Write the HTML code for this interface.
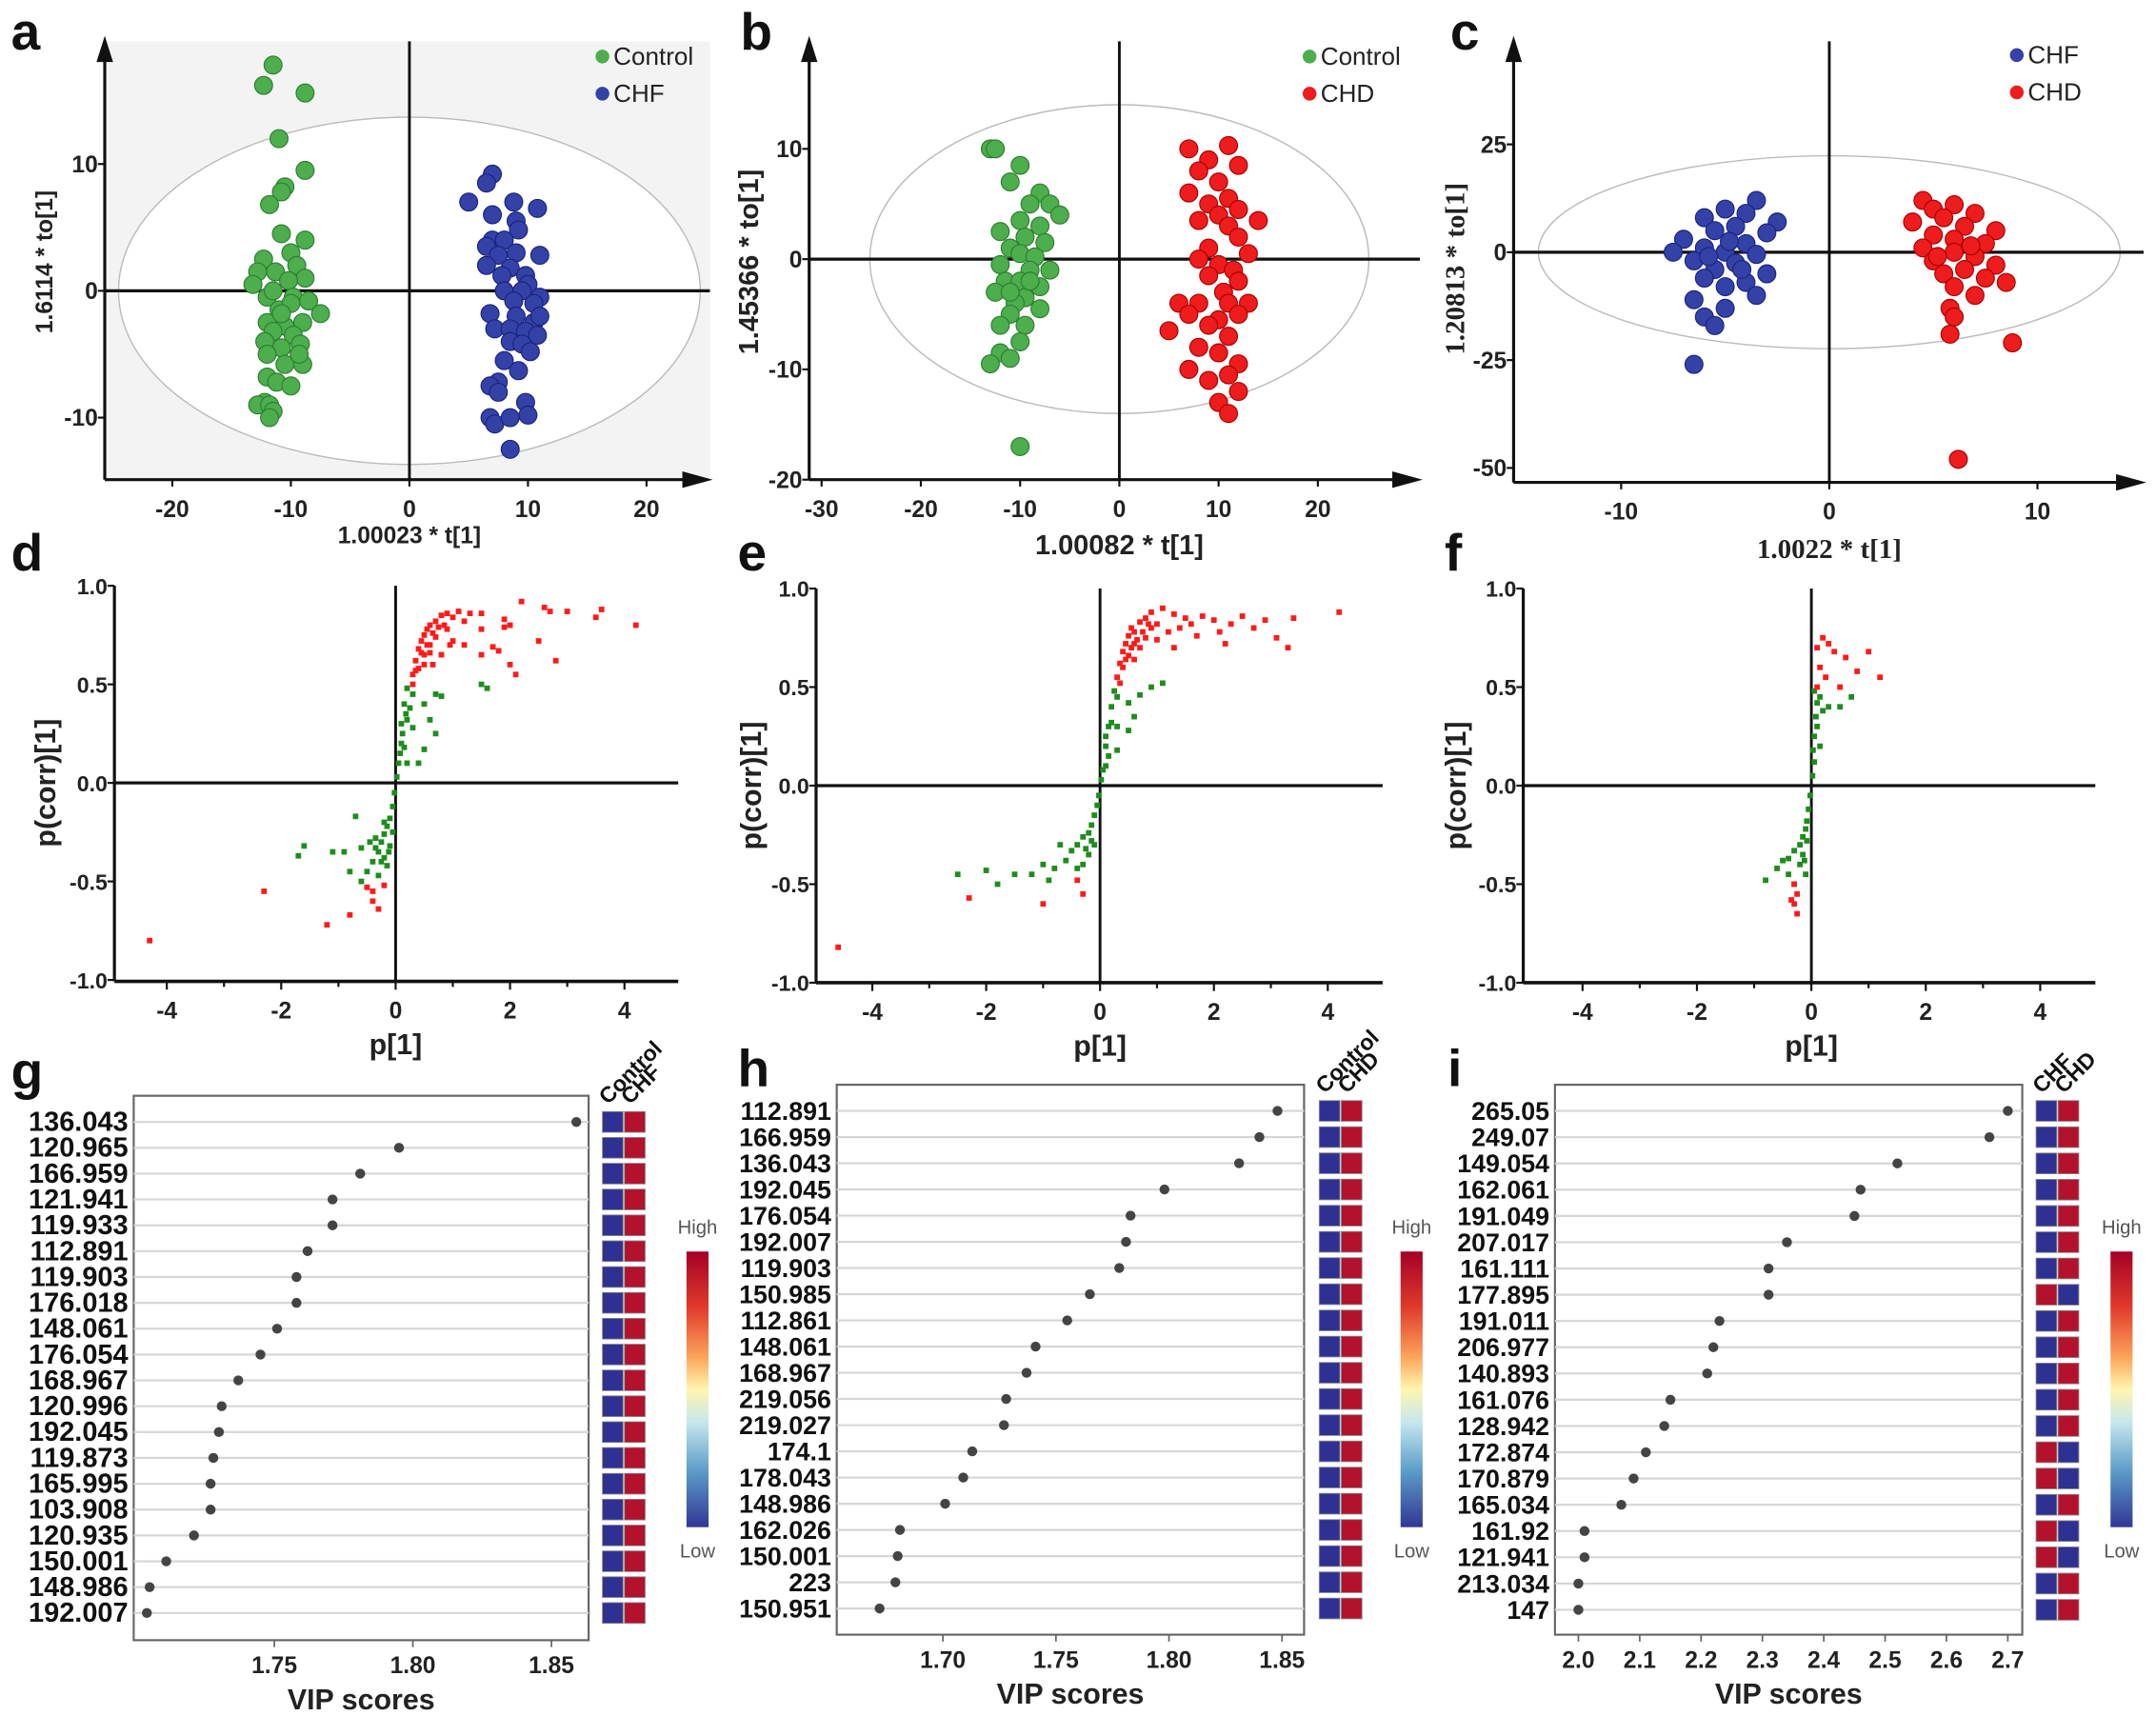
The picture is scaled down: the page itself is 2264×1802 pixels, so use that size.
<!DOCTYPE html>
<html><head><meta charset="utf-8"><style>
html,body{margin:0;padding:0;background:#fff;}
svg{display:block;font-family:"Liberation Sans",sans-serif;}
</style></head><body>
<svg id="fig" width="2264" height="1802" viewBox="0 0 1564 1245" preserveAspectRatio="none" xmlns="http://www.w3.org/2000/svg"></svg>
<script>
// ---------- Score plot data (a,b,c) ----------
const aControl=[[-11.5,17.8],[-12.3,16.2],[-8.8,15.6],[-11,12],[-8.8,9.5],[-10.5,8.2],[-10.8,7.8],[-11.8,6.8],[-10.8,4.5],[-8.8,4],[-10,3],[-12.3,2.5],[-9.5,2],[-12.8,1.5],[-11.3,1.5],[-8.8,1],[-13.2,0.5],[-10.2,0.8],[-12,-0.5],[-9.8,-0.5],[-8.5,-0.8],[-11,-1.5],[-10,-1],[-7.5,-1.8],[-12,-2.5],[-10.5,-2.8],[-9,-2.5],[-11.5,-3.2],[-9.8,-3.5],[-12.2,-4],[-10.8,-4.5],[-9.2,-4.2],[-12,-5],[-10.5,-5.8],[-9,-5.8],[-12,-6.8],[-11.2,-7.2],[-10,-7.5],[-12.2,-8.8],[-12.8,-9],[-11.8,-9],[-11.5,-9.5],[-11.8,-10],[-9.3,-5],[-10.8,-1.8],[-11.5,0]];
const aCHF=[[7,9.2],[6.5,8.5],[5,7],[8.8,7],[10.8,6.5],[7,6],[9,5.5],[9.2,4.8],[7,4],[8,4],[6.5,3.5],[9,3],[7.5,2.8],[11,2.8],[6.5,2],[8.5,1.8],[7.8,1.2],[9.8,1.2],[10,0.5],[8,0],[9.5,0],[11,-0.5],[8.8,-0.8],[10.5,-1],[6.8,-1.8],[9,-2],[10.5,-2.5],[11,-2],[7.2,-3],[8.5,-3],[9.8,-3.2],[10.8,-3.5],[8.5,-4],[9.5,-4.2],[10.2,-4.8],[8,-5.5],[9.2,-6.3],[7.5,-7.2],[6.8,-7.5],[7.5,-8],[9.8,-8.8],[6.8,-10],[7.2,-10.5],[8.5,-10],[10,-9.8],[8.5,-12.5]];
const bControl=[[-13,10],[-12.5,10],[-10,8.5],[-11,7],[-8,6],[-9,5],[-7,5],[-6,4],[-10,3.5],[-8,3],[-12,2.5],[-9.5,2],[-7.5,1.5],[-11,1],[-10,0.5],[-8.5,0.2],[-12,-0.5],[-9,-1],[-7,-1],[-11.5,-2],[-10,-2],[-8,-2.5],[-12.5,-3],[-9.5,-3.5],[-10.5,-4],[-8,-4.5],[-11,-5],[-12,-6],[-9.5,-6],[-10,-7.5],[-12,-8.5],[-13,-9.5],[-11,-9],[-10,-17],[-9,-2],[-11,-3]];
const bCHD=[[7,10],[11,10.3],[9,9],[12,8.5],[8,8],[10,7],[7,6],[11,5.5],[9,5],[12,4.5],[10,4],[8,3.5],[14,3.5],[11,3],[12,2],[9,1],[13,0.5],[8,0],[10,-0.5],[11.5,-1],[9,-1.5],[12,-2],[10.5,-3],[6,-4],[8,-4],[11,-4],[13,-4],[7,-5],[10,-5.5],[12,-5],[9,-6],[5,-6.5],[11,-7],[8,-8],[10,-8.5],[12,-9.5],[7,-10],[11,-10.5],[9,-11],[12,-12],[10,-13],[11,-14]];
const cCHF=[[-3.5,12],[-5,10],[-4,9],[-6,8],[-2.5,7],[-4.5,6],[-5.5,5],[-3,4.5],[-7,3],[-4,2],[-6,1],[-5,0],[-7.5,0],[-3.5,-0.5],[-6.5,-2],[-4.5,-2.5],[-5.5,-4],[-3,-5],[-6,-6],[-4,-7],[-5,-8],[-3.5,-10],[-6.5,-11],[-5,-13],[-6,-15],[-5.5,-17],[-6.5,-26],[-4.8,2.5],[-5.8,-1],[-4.2,-4]];
const cCHD=[[4.5,12],[6,11],[5,10],[7,9],[5.5,8],[4,7],[6.5,6],[8,5],[5,4],[6,3],[7.5,2],[4.5,1],[6,0],[7,-1],[5,-2],[8,-3],[6.5,-4],[5.5,-5],[7.5,-6],[8.5,-7],[6,-8],[7,-10],[5.8,-13],[6,-15],[5.8,-19],[8.8,-21],[6.2,-48],[5.2,-1],[6.8,1.5]];
const aXTicks=[-20,-10,0,10,20], aYTicks=[10,0,-10];
const bXTicks=[-30,-20,-10,0,10,20], bYTicks=[10,0,-10,-20];
const cXTicks=[-10,0,10], cYTicks=[25,0,-25,-50];
// ---------- S-plot data (d,e,f) ----------
const dRed=[[0.3,0.55],[0.35,0.62],[0.4,0.68],[0.45,0.72],[0.5,0.75],[0.55,0.78],[0.6,0.8],[0.7,0.82],[0.8,0.85],[0.9,0.86],[1.1,0.87],[1.3,0.86],[1.5,0.86],[0.4,0.58],[0.5,0.65],[0.6,0.7],[0.7,0.74],[0.8,0.65],[0.9,0.78],[1.0,0.72],[1.2,0.7],[1.5,0.78],[1.5,0.65],[1.7,0.69],[1.8,0.67],[1.9,0.79],[2.0,0.8],[2.0,0.6],[2.1,0.55],[2.2,0.92],[2.5,0.72],[2.6,0.89],[2.7,0.87],[2.8,0.62],[3.0,0.87],[3.5,0.84],[3.6,0.88],[4.2,0.8],[1.9,0.83],[0.65,0.6],[0.3,0.5],[0.45,0.66],[0.55,0.7],[0.65,0.76],[0.75,0.79],[0.5,0.6],[0.6,0.66],[0.85,0.8],[1.0,0.84],[1.2,0.82],[0.35,0.57],[0.95,0.7],[-0.2,-0.52],[-0.4,-0.55],[-0.5,-0.53],[-0.4,-0.6],[-0.3,-0.64],[-0.8,-0.67],[-1.2,-0.72],[-2.3,-0.55],[-4.3,-0.8]];
const dGreen=[[0.2,0.48],[0.3,0.45],[0.15,0.4],[0.25,0.38],[0.5,0.4],[0.7,0.45],[0.8,0.44],[1.5,0.5],[1.6,0.48],[0.1,0.3],[0.2,0.32],[0.3,0.28],[0.6,0.32],[0.7,0.25],[0.1,0.2],[0.15,0.18],[0.5,0.17],[0.05,0.1],[0.2,0.1],[0.4,0.1],[0.02,0.03],[-0.02,-0.05],[-0.05,-0.12],[-0.1,-0.18],[-0.15,-0.22],[-0.2,-0.26],[-0.25,-0.3],[-0.35,-0.28],[-0.45,-0.3],[-0.6,-0.33],[-0.3,-0.35],[-0.2,-0.38],[-0.4,-0.4],[-0.15,-0.42],[-0.5,-0.45],[-0.8,-0.45],[-0.9,-0.35],[-1.1,-0.35],[-1.6,-0.32],[-1.7,-0.37],[-0.7,-0.17],[-0.6,-0.5],[-0.3,-0.47],[-0.1,-0.32],[-0.05,-0.25],[0.12,0.25],[0.18,0.35],[0.08,0.15],[-0.12,-0.35],[-0.25,-0.4],[-0.35,-0.33],[-0.2,-0.2]];
const eRed=[[0.3,0.55],[0.35,0.62],[0.4,0.68],[0.45,0.72],[0.5,0.76],[0.55,0.8],[0.6,0.78],[0.7,0.83],[0.8,0.85],[0.9,0.88],[1.1,0.9],[1.3,0.87],[1.5,0.85],[0.4,0.6],[0.5,0.66],[0.6,0.72],[0.7,0.7],[0.8,0.75],[0.9,0.8],[1.0,0.74],[1.2,0.78],[1.4,0.8],[1.6,0.82],[1.7,0.76],[1.8,0.86],[2.0,0.84],[2.1,0.78],[2.3,0.82],[2.5,0.86],[2.7,0.8],[2.9,0.84],[3.1,0.75],[3.3,0.7],[3.4,0.85],[4.2,0.88],[1.3,0.7],[2.2,0.72],[0.35,0.52],[0.45,0.64],[0.55,0.7],[0.65,0.74],[0.75,0.78],[0.85,0.82],[1.0,0.82],[0.6,0.64],[-0.3,-0.55],[-0.4,-0.48],[-1,-0.6],[-2.3,-0.57],[-4.6,-0.82]];
const eGreen=[[0.25,0.48],[0.3,0.45],[0.2,0.4],[0.5,0.42],[0.7,0.46],[0.9,0.5],[1.1,0.52],[0.3,0.3],[0.2,0.32],[0.5,0.28],[0.6,0.35],[0.1,0.2],[0.15,0.15],[0.3,0.18],[0.05,0.08],[0.1,0.1],[0.02,0.03],[-0.02,-0.05],[-0.05,-0.1],[-0.1,-0.15],[-0.15,-0.2],[-0.2,-0.24],[-0.3,-0.26],[-0.4,-0.3],[-0.5,-0.33],[-0.6,-0.38],[-0.8,-0.42],[-1.0,-0.4],[-1.2,-0.45],[-1.5,-0.45],[-2.0,-0.43],[-2.5,-0.45],[-1.8,-0.5],[-0.3,-0.4],[-0.2,-0.35],[-0.1,-0.3],[-0.7,-0.3],[-0.9,-0.48],[-0.4,-0.42],[0.15,0.3],[0.1,0.25],[-0.15,-0.28],[-0.25,-0.32]];
const fRed=[[0.1,0.7],[0.2,0.75],[0.3,0.72],[0.4,0.68],[0.6,0.65],[0.8,0.58],[1.0,0.68],[1.2,0.55],[0.15,0.6],[0.25,0.55],[0.5,0.5],[0.1,0.5],[-0.3,-0.5],[-0.25,-0.55],[-0.3,-0.6],[-0.25,-0.65],[-0.35,-0.58]];
const fGreen=[[0.05,0.48],[0.1,0.42],[0.15,0.45],[0.2,0.38],[0.3,0.4],[0.5,0.4],[0.7,0.45],[0.1,0.3],[0.05,0.25],[0.15,0.2],[0.05,0.12],[0.02,0.05],[-0.02,-0.05],[-0.05,-0.12],[-0.08,-0.18],[-0.1,-0.22],[-0.15,-0.26],[-0.2,-0.3],[-0.3,-0.33],[-0.4,-0.37],[-0.5,-0.38],[-0.6,-0.42],[-0.2,-0.4],[-0.1,-0.45],[-0.4,-0.45],[-0.8,-0.48],[-0.3,-0.5],[-0.15,-0.35],[0.08,0.35],[0.03,0.18],[-0.08,-0.28],[-0.12,-0.38]];
const sXTicks=[-4,-2,0,2,4], sYTicks=[1.0,0.5,0.0,-0.5,-1.0];
// ---------- VIP data (g,h,i) ----------
const gLabels=["136.043","120.965","166.959","121.941","119.933","112.891","119.903","176.018","148.061","176.054","168.967","120.996","192.045","119.873","165.995","103.908","120.935","150.001","148.986","192.007"];
const gVIP=[1.859,1.795,1.781,1.771,1.771,1.762,1.758,1.758,1.751,1.745,1.737,1.731,1.730,1.728,1.727,1.727,1.721,1.711,1.705,1.704];
const gHigh=[1,1,1,1,1,1,1,1,1,1,1,1,1,1,1,1,1,1,1,1];
const gTicks=[1.75,1.80,1.85];
const hLabels=["112.891","166.959","136.043","192.045","176.054","192.007","119.903","150.985","112.861","148.061","168.967","219.056","219.027","174.1","178.043","148.986","162.026","150.001","223","150.951"];
const hVIP=[1.848,1.840,1.831,1.798,1.783,1.781,1.778,1.765,1.755,1.741,1.737,1.728,1.727,1.713,1.709,1.701,1.681,1.680,1.679,1.672];
const hHigh=[1,1,1,1,1,1,1,1,1,1,1,1,1,1,1,1,1,1,1,1];
const hTicks=[1.70,1.75,1.80,1.85];
const iLabels=["265.05","249.07","149.054","162.061","191.049","207.017","161.111","177.895","191.011","206.977","140.893","161.076","128.942","172.874","170.879","165.034","161.92","121.941","213.034","147"];
const iVIP=[2.70,2.67,2.52,2.46,2.45,2.34,2.31,2.31,2.23,2.22,2.21,2.15,2.14,2.11,2.09,2.07,2.01,2.01,2.00,2.00];
const iHigh=[1,1,1,1,1,1,1,0,1,1,1,1,1,0,0,1,0,0,1,1];
const iTicks=[2.0,2.1,2.2,2.3,2.4,2.5,2.6,2.7];

const NS="http://www.w3.org/2000/svg";
const svg=document.getElementById('fig');
function el(tag,attrs,parent,txt){const e=document.createElementNS(NS,tag);for(const k in attrs)e.setAttribute(k,attrs[k]);if(txt!==undefined)e.textContent=txt;(parent||svg).appendChild(e);return e;}
function grp(name){const g=el('g',{});return g;}
function line(g,x1,y1,x2,y2,c,w){return el('line',{x1,y1,x2,y2,stroke:c||'#000','stroke-width':w||2},g);}
function txt(g,x,y,s,o){const t=el('text',Object.assign({x,y,'font-size':15,'font-weight':'bold',fill:'#222'},o||{}),g,s);return t;}

const letters=[['a',8,36],['b',537,36],['c',1052,36],['d',8,414],['e',535,414],['f',1048,414],['g',8,790],['h',535,788],['i',1050,788]];
letters.forEach(l=>{const t=txt(svg,l[1],l[2],l[0],{'font-size':38,fill:'#111'});});

function scorePlot(cfg){
  const g=grp('score-plot-'+cfg.id);
  const X=v=>cfg.x0+v*cfg.sx, Y=v=>cfg.y0+v*cfg.sy;
  if(cfg.bg) el('rect',{x:cfg.L,y:cfg.T,width:cfg.R-cfg.L,height:cfg.B-cfg.T,fill:cfg.bg},g);
  el('ellipse',{cx:cfg.x0,cy:cfg.y0,rx:cfg.erx,ry:cfg.ery,fill:'#fff',stroke:'#bbb','stroke-width':1},g);
  line(g,cfg.x0,cfg.T,cfg.x0,cfg.B,'#111',2);
  line(g,cfg.L,cfg.y0,cfg.R,cfg.y0,'#111',2.2);
  line(g,cfg.L,cfg.T,cfg.L,cfg.B,'#111',2.2);
  line(g,cfg.L,cfg.B,cfg.R-10,cfg.B,'#111',2.2);
  el('polygon',{points:`${cfg.L-6},${cfg.T+15} ${cfg.L},${cfg.T-4} ${cfg.L+6},${cfg.T+15}`,fill:'#111'},g);
  el('polygon',{points:`${cfg.R-20},${cfg.B-6} ${cfg.R+2},${cfg.B} ${cfg.R-20},${cfg.B+6}`,fill:'#111'},g);
  cfg.xt.forEach(v=>{line(g,X(v),cfg.B,X(v),cfg.B+5,'#111',1.5);const t=txt(g,X(v),cfg.B+27,String(v),{'text-anchor':'middle','font-size':17});});
  cfg.yt.forEach(v=>{line(g,cfg.L-5,Y(v),cfg.L,Y(v),'#111',1.5);const t=txt(g,cfg.L-5,Y(v)+6,String(v),{'text-anchor':'end','font-size':17});});
  cfg.series.forEach(s=>{
    const sg=el('g',{},g);
    
    
    s.data.forEach(p=>{const c=el('circle',{cx:X(p[0]),cy:Y(p[1]),r:6.5,fill:s.color,stroke:s.stroke,'stroke-width':0.8},sg);
      
      });
  });
  cfg.series.forEach((s,i)=>{
    const lg=el('g',{},g);
    
    
    el('circle',{cx:cfg.legX,cy:cfg.legY+i*27,r:5,fill:s.color},lg);
    txt(lg,cfg.legX+8,cfg.legY+i*27+6,s.name,{'font-size':18,'font-weight':'normal',fill:'#222'});
  });
  const xt=txt(g,cfg.x0,cfg.B+cfg.xtOff,cfg.xTitle,Object.assign({'text-anchor':'middle','font-size':cfg.tfs||17},cfg.tfam?{'font-family':cfg.tfam}:{}));
  
  const yt=txt(g,0,0,cfg.yTitle,Object.assign({'text-anchor':'middle','font-size':cfg.tfs||17,transform:`translate(${cfg.ytx},${cfg.yty}) rotate(-90)`},cfg.tfam?{'font-family':cfg.tfam}:{}));
  
}
const GREEN='#4cae4c',BLUE='#3442a8',RED='#ee1c1c';
scorePlot({id:'a',x0:297,sx:8.6,y0:211,sy:-9.2,L:76,R:515,T:30,B:348,bg:'#f3f3f3',erx:211,ery:126,xt:aXTicks,yt:aYTicks,
  series:[{name:'Control',data:aControl,color:GREEN,stroke:'#2e7d32'},{name:'CHF',data:aCHF,color:BLUE,stroke:'#1a237e'}],
  legX:437,legY:41,xTitle:'1.00023 * t[1]',yTitle:'1.6114 * to[1]',xtOff:46,ytx:38,yty:190});
scorePlot({id:'b',x0:812,sx:7.2,y0:188,sy:-8,L:587,R:1030,T:30,B:348,bg:null,erx:181,ery:112,xt:bXTicks,yt:bYTicks,
  series:[{name:'Control',data:bControl,color:GREEN,stroke:'#2e7d32'},{name:'CHD',data:bCHD,color:RED,stroke:'#a00'}],
  legX:950,legY:41,xTitle:'1.00082 * t[1]',yTitle:'1.45366 * to[1]',xtOff:54,ytx:550,yty:190,tfs:20});
scorePlot({id:'c',x0:1327,sx:15.1,y0:183,sy:-3.13,L:1098,R:1555,T:30,B:350,bg:null,erx:211,ery:70,xt:cXTicks,yt:cYTicks,
  series:[{name:'CHF',data:cCHF,color:BLUE,stroke:'#1a237e'},{name:'CHD',data:cCHD,color:RED,stroke:'#a00'}],
  legX:1463,legY:40,xTitle:'1.0022 * t[1]',yTitle:'1.20813 * to[1]',xtOff:55,ytx:1062,yty:195,tfs:20,tfam:'"Liberation Serif",serif'});

function sPlot(cfg){
  const g=grp('s-plot-'+cfg.id);
  const X=v=>cfg.x0+v*cfg.sx, Y=v=>cfg.y0+v*cfg.sy;
  line(g,cfg.x0,Y(1),cfg.x0,cfg.B,'#111',2);
  line(g,cfg.L,cfg.y0,cfg.R,cfg.y0,'#111',2.2);
  line(g,cfg.L,Y(1),cfg.L,cfg.B,'#111',2.2);
  line(g,cfg.L,cfg.B,cfg.R,cfg.B,'#111',2.5);
  for(let v=-4;v<=4;v+=1){line(g,X(v),cfg.B,X(v),cfg.B+(v%2===0?6:4),'#111',1.5);}
  cfg.xt.forEach(v=>{const t=txt(g,X(v),cfg.B+27,String(v),{'text-anchor':'middle','font-size':17});});
  cfg.yt.forEach(v=>{line(g,cfg.L-5,Y(v),cfg.L,Y(v),'#111',1.5);const t=txt(g,cfg.L-5,Y(v)+6,v.toFixed(1),{'text-anchor':'end','font-size':16});});
  [['green',cfg.green,'#1e8c1e'],['red',cfg.red,'#ff1a1a']].forEach(s=>{
    const sg=el('g',{},g);
    
    
    s[1].forEach(p=>{const r=el('rect',{x:X(p[0])-2,y:Y(p[1])-2,width:4,height:4,fill:s[2]},sg);
      
      });
  });
  const xt=txt(g,cfg.x0,cfg.B+53,'p[1]',{'text-anchor':'middle','font-size':21});
  
  const yt=txt(g,0,0,'p(corr)[1]',{'text-anchor':'middle','font-size':21,transform:`translate(${cfg.ytx},${cfg.y0}) rotate(-90)`});
  
}
sPlot({id:'d',x0:287,sx:41.5,y0:568,sy:-143,L:83,R:492,B:712,xt:sXTicks,yt:sYTicks,red:dRed,green:dGreen,ytx:40});
sPlot({id:'e',x0:798,sx:41.3,y0:570,sy:-143,L:592,R:1003,B:713,xt:sXTicks,yt:sYTicks,red:eRed,green:eGreen,ytx:552});
sPlot({id:'f',x0:1314,sx:41.5,y0:570,sy:-143,L:1105,R:1520,B:713,xt:sXTicks,yt:sYTicks,red:fRed,green:fGreen,ytx:1063});

function vipPlot(cfg){
  const g=grp('vip-plot-'+cfg.id);
  const X=v=>cfg.xRef+(v-cfg.vRef)*cfg.sx;
  const Yr=i=>cfg.r0+i*cfg.dr;
  el('rect',{x:cfg.L,y:cfg.T,width:cfg.R-cfg.L,height:cfg.B-cfg.T,fill:'#fff',stroke:'#666','stroke-width':1.5},g);
  cfg.labels.forEach((lab,i)=>{
    line(g,cfg.L,Yr(i),cfg.R,Yr(i),'#d6d6d6',1.5);
    const t=txt(g,cfg.L-4,Yr(i)+6.5,lab,{'text-anchor':'end','font-size':cfg.lfs,fill:'#111'});
    
  });
  cfg.vals.forEach((v,i)=>{const c=el('circle',{cx:X(v),cy:Yr(i),r:3.6,fill:'#444'},g);
    
    });
  cfg.high.forEach((h,i)=>{
    const c1=el('rect',{x:cfg.hx,y:Yr(i)-7.5,width:15,height:15,fill:h?'#2e3192':'#b3112c',stroke:'#888','stroke-width':0.6},g);
    
    const c2=el('rect',{x:cfg.hx+16,y:Yr(i)-7.5,width:15,height:15,fill:h?'#b3112c':'#2e3192',stroke:'#888','stroke-width':0.6},g);
    
  });
  cfg.groups.forEach((gname,k)=>{const t=txt(g,0,0,gname,{'font-size':16,fill:'#111',transform:`translate(${cfg.hx+4+k*16},${cfg.r0-12}) rotate(-45)`});
    });
  cfg.ticks.forEach(v=>{line(g,X(v),cfg.B,X(v),cfg.B+5,'#666',1.2);const t=txt(g,X(v),cfg.B+24,v.toFixed(cfg.dec),{'text-anchor':'middle','font-size':17});
    });
  const xt=txt(g,(cfg.L+cfg.R)/2,cfg.B+50,'VIP scores',{'text-anchor':'middle','font-size':21});
  
  const cb=el('rect',{x:cfg.cbx,y:908,width:16,height:200,fill:'url(#cbgrad)'},g);
  
  txt(g,cfg.cbx+8,895,'High',{'text-anchor':'middle','font-size':14,'font-weight':'normal',fill:'#555'});
  txt(g,cfg.cbx+8,1130,'Low',{'text-anchor':'middle','font-size':14,'font-weight':'normal',fill:'#555'});
}
const defs=el('defs',{});
const lg=el('linearGradient',{id:'cbgrad',x1:0,y1:0,x2:0,y2:1},defs);
[['0','#a50026'],['0.2','#e0392b'],['0.38','#fba35a'],['0.5','#fff6ae'],['0.62','#c6e7ef'],['0.8','#5a9bc8'],['1','#313695']].forEach(s=>el('stop',{offset:s[0],'stop-color':s[1]},lg));
vipPlot({id:'g',L:97,R:427,T:795,B:1190,r0:814,dr:18.75,labels:gLabels,vals:gVIP,high:gHigh,ticks:gTicks,dec:2,xRef:199,vRef:1.75,sx:2010,hx:437,cbx:498,groups:['Control','CHF'],lfs:20});
vipPlot({id:'h',L:607,R:946,T:787,B:1186,r0:806,dr:19,labels:hLabels,vals:hVIP,high:hHigh,ticks:hTicks,dec:2,xRef:684,vRef:1.70,sx:1640,hx:957,cbx:1016,groups:['Control','CHD'],lfs:18.5});
vipPlot({id:'i',L:1128,R:1467,T:787,B:1186,r0:806,dr:19.05,labels:iLabels,vals:iVIP,high:iHigh,ticks:iTicks,dec:1,xRef:1145,vRef:2.0,sx:445,hx:1477,cbx:1531,groups:['CHF','CHD'],lfs:18.5});
</script>
</body></html>
